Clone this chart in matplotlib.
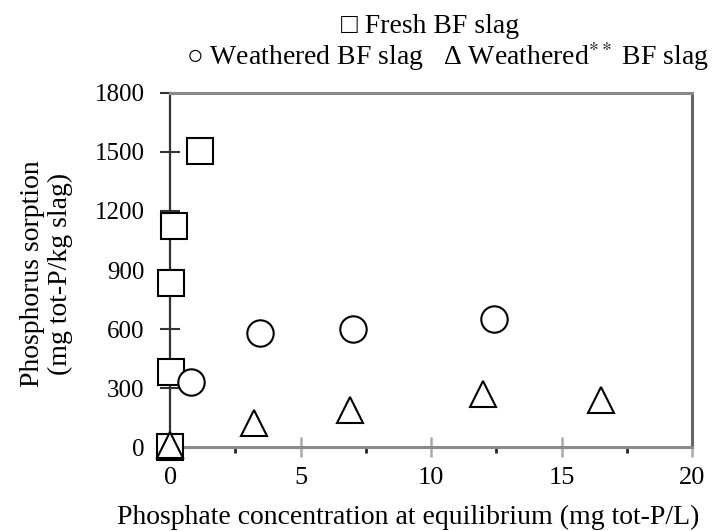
import matplotlib
matplotlib.use('Agg')
import matplotlib.pyplot as plt
from matplotlib.ticker import MultipleLocator

plt.rcParams['font.family'] = ['Liberation Serif', 'DejaVu Serif']
plt.rcParams['mathtext.fontset'] = 'stix'

# Fresh BF slag
fresh_x = [0.0, 0.02, 0.05, 0.15, 1.15]
fresh_y = [0, 380, 835, 1125, 1505]
# Weathered BF slag
weath_x = [0.8, 3.45, 7.0, 12.4]
weath_y = [330, 580, 600, 650]
# Weathered** BF slag
weath2_x = [0.0, 3.2, 6.9, 12.0, 16.5]
weath2_y = [10, 120, 190, 270, 240]

fig = plt.figure(figsize=(7.12, 5.31), dpi=100)
ax = fig.add_axes([0.239, 0.158, 0.733, 0.667])

mk = dict(linestyle='none', markerfacecolor='white', markeredgecolor='black',
          markeredgewidth=1.5, markersize=19, clip_on=False, zorder=3)
ax.plot(fresh_x, fresh_y, marker='s', **mk)
ax.plot(weath_x, weath_y, marker='o', **mk)
ax.plot(weath2_x, weath2_y, marker='^', **mk)

ax.set_xlim(0, 20)
ax.set_ylim(0, 1800)
ax.xaxis.set_major_locator(MultipleLocator(5))
ax.xaxis.set_minor_locator(MultipleLocator(2.5))
ax.yaxis.set_major_locator(MultipleLocator(300))

ax.spines['left'].set_color('#333333')
ax.spines['left'].set_linewidth(1.6)
for s in ['top', 'bottom']:
    ax.spines[s].set_color('#8a8a8a')
    ax.spines[s].set_linewidth(2.2)
ax.spines['right'].set_color('#666666')
ax.spines['right'].set_linewidth(2.2)

ax.tick_params(axis='y', which='major', direction='inout', length=15,
               width=1.5, labelsize=18, color='#333333', pad=11)
ax.tick_params(axis='x', which='major', direction='inout', length=15,
               width=1.8, labelsize=19, color='#aaaaaa', pad=7)
ax.tick_params(axis='x', which='minor', direction='out', length=4, width=2,
               color='#222222')

ax.set_xlabel('Phosphate concentration at equilibrium (mg tot-P/L)',
              fontsize=20)
ax.xaxis.label.set_va('center')
ax.xaxis.set_label_coords(0.456, -0.198)
ax.set_ylabel('Phosphorus sorption\n(mg tot-P/kg slag)', fontsize=20,
              linespacing=1.15)
ax.yaxis.label.set_va('center')
ax.yaxis.set_label_coords(-0.237, 0.49)

fig.text(0.604, 0.951, '□ Fresh BF slag', ha='center', va='center', fontsize=20)
fig.text(0.628, 0.893, '○ Weathered BF slag   Δ Weathered$^{**}$ BF slag',
         ha='center', va='center', fontsize=20)

fig.savefig('out.png', dpi=100)
